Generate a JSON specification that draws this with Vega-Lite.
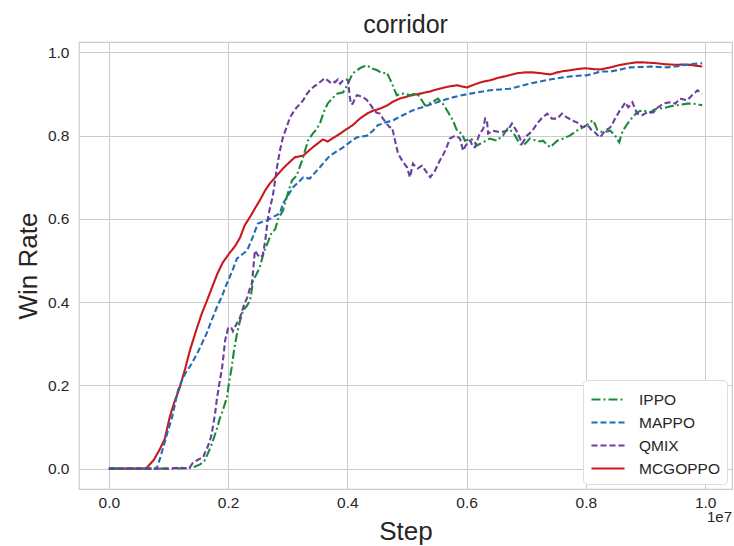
{
  "$schema": "https://vega.github.io/schema/vega-lite/v6.json",
  "width": 653,
  "height": 447,
  "autosize": {"type": "none"},
  "padding": {"left": 79, "top": 42, "right": 2, "bottom": 57},
  "background": "white",
  "title": {"text": "corridor", "fontSize": 25, "font": "Liberation Sans", "fontWeight": "normal", "color": "#262626", "offset": 4},
  "datasets": {
    "curves": [
      {"algo":"MCGOPPO","x":0,"y":0},{"algo":"MCGOPPO","x":0.03,"y":0},{"algo":"MCGOPPO","x":0.062,"y":0},{"algo":"MCGOPPO","x":0.075,"y":0.02},{"algo":"MCGOPPO","x":0.085,"y":0.045},{"algo":"MCGOPPO","x":0.094,"y":0.072},{"algo":"MCGOPPO","x":0.102,"y":0.123},{"algo":"MCGOPPO","x":0.11,"y":0.16},{"algo":"MCGOPPO","x":0.119,"y":0.195},{"algo":"MCGOPPO","x":0.128,"y":0.24},{"algo":"MCGOPPO","x":0.136,"y":0.284},{"algo":"MCGOPPO","x":0.146,"y":0.33},{"algo":"MCGOPPO","x":0.156,"y":0.373},{"algo":"MCGOPPO","x":0.165,"y":0.405},{"algo":"MCGOPPO","x":0.173,"y":0.435},{"algo":"MCGOPPO","x":0.182,"y":0.468},{"algo":"MCGOPPO","x":0.191,"y":0.495},{"algo":"MCGOPPO","x":0.203,"y":0.519},{"algo":"MCGOPPO","x":0.212,"y":0.535},{"algo":"MCGOPPO","x":0.22,"y":0.555},{"algo":"MCGOPPO","x":0.228,"y":0.585},{"algo":"MCGOPPO","x":0.237,"y":0.605},{"algo":"MCGOPPO","x":0.245,"y":0.625},{"algo":"MCGOPPO","x":0.253,"y":0.644},{"algo":"MCGOPPO","x":0.262,"y":0.668},{"algo":"MCGOPPO","x":0.27,"y":0.685},{"algo":"MCGOPPO","x":0.281,"y":0.703},{"algo":"MCGOPPO","x":0.292,"y":0.721},{"algo":"MCGOPPO","x":0.302,"y":0.735},{"algo":"MCGOPPO","x":0.312,"y":0.748},{"algo":"MCGOPPO","x":0.326,"y":0.752},{"algo":"MCGOPPO","x":0.334,"y":0.762},{"algo":"MCGOPPO","x":0.342,"y":0.772},{"algo":"MCGOPPO","x":0.35,"y":0.781},{"algo":"MCGOPPO","x":0.359,"y":0.791},{"algo":"MCGOPPO","x":0.367,"y":0.786},{"algo":"MCGOPPO","x":0.378,"y":0.796},{"algo":"MCGOPPO","x":0.388,"y":0.805},{"algo":"MCGOPPO","x":0.398,"y":0.815},{"algo":"MCGOPPO","x":0.409,"y":0.825},{"algo":"MCGOPPO","x":0.421,"y":0.841},{"algo":"MCGOPPO","x":0.433,"y":0.853},{"algo":"MCGOPPO","x":0.443,"y":0.86},{"algo":"MCGOPPO","x":0.455,"y":0.865},{"algo":"MCGOPPO","x":0.466,"y":0.872},{"algo":"MCGOPPO","x":0.477,"y":0.882},{"algo":"MCGOPPO","x":0.488,"y":0.889},{"algo":"MCGOPPO","x":0.505,"y":0.896},{"algo":"MCGOPPO","x":0.522,"y":0.901},{"algo":"MCGOPPO","x":0.538,"y":0.906},{"algo":"MCGOPPO","x":0.555,"y":0.913},{"algo":"MCGOPPO","x":0.57,"y":0.918},{"algo":"MCGOPPO","x":0.584,"y":0.921},{"algo":"MCGOPPO","x":0.592,"y":0.918},{"algo":"MCGOPPO","x":0.601,"y":0.916},{"algo":"MCGOPPO","x":0.617,"y":0.925},{"algo":"MCGOPPO","x":0.628,"y":0.93},{"algo":"MCGOPPO","x":0.639,"y":0.933},{"algo":"MCGOPPO","x":0.651,"y":0.938},{"algo":"MCGOPPO","x":0.668,"y":0.944},{"algo":"MCGOPPO","x":0.685,"y":0.95},{"algo":"MCGOPPO","x":0.698,"y":0.952},{"algo":"MCGOPPO","x":0.711,"y":0.952},{"algo":"MCGOPPO","x":0.725,"y":0.95},{"algo":"MCGOPPO","x":0.74,"y":0.947},{"algo":"MCGOPPO","x":0.752,"y":0.952},{"algo":"MCGOPPO","x":0.762,"y":0.955},{"algo":"MCGOPPO","x":0.773,"y":0.957},{"algo":"MCGOPPO","x":0.786,"y":0.96},{"algo":"MCGOPPO","x":0.799,"y":0.962},{"algo":"MCGOPPO","x":0.812,"y":0.96},{"algo":"MCGOPPO","x":0.824,"y":0.959},{"algo":"MCGOPPO","x":0.841,"y":0.964},{"algo":"MCGOPPO","x":0.858,"y":0.97},{"algo":"MCGOPPO","x":0.874,"y":0.974},{"algo":"MCGOPPO","x":0.885,"y":0.976},{"algo":"MCGOPPO","x":0.896,"y":0.976},{"algo":"MCGOPPO","x":0.908,"y":0.975},{"algo":"MCGOPPO","x":0.919,"y":0.974},{"algo":"MCGOPPO","x":0.93,"y":0.972},{"algo":"MCGOPPO","x":0.941,"y":0.971},{"algo":"MCGOPPO","x":0.952,"y":0.97},{"algo":"MCGOPPO","x":0.963,"y":0.971},{"algo":"MCGOPPO","x":0.975,"y":0.97},{"algo":"MCGOPPO","x":0.985,"y":0.968},{"algo":"MCGOPPO","x":0.995,"y":0.966},

      {"algo":"MAPPO","x":0,"y":0},{"algo":"MAPPO","x":0.04,"y":0},{"algo":"MAPPO","x":0.08,"y":0},{"algo":"MAPPO","x":0.086,"y":0.025},{"algo":"MAPPO","x":0.091,"y":0.05},{"algo":"MAPPO","x":0.098,"y":0.085},{"algo":"MAPPO","x":0.106,"y":0.123},{"algo":"MAPPO","x":0.111,"y":0.155},{"algo":"MAPPO","x":0.116,"y":0.188},{"algo":"MAPPO","x":0.122,"y":0.21},{"algo":"MAPPO","x":0.128,"y":0.228},{"algo":"MAPPO","x":0.138,"y":0.25},{"algo":"MAPPO","x":0.148,"y":0.276},{"algo":"MAPPO","x":0.156,"y":0.3},{"algo":"MAPPO","x":0.164,"y":0.325},{"algo":"MAPPO","x":0.172,"y":0.355},{"algo":"MAPPO","x":0.181,"y":0.387},{"algo":"MAPPO","x":0.19,"y":0.415},{"algo":"MAPPO","x":0.198,"y":0.445},{"algo":"MAPPO","x":0.207,"y":0.475},{"algo":"MAPPO","x":0.215,"y":0.505},{"algo":"MAPPO","x":0.224,"y":0.515},{"algo":"MAPPO","x":0.232,"y":0.524},{"algo":"MAPPO","x":0.241,"y":0.555},{"algo":"MAPPO","x":0.25,"y":0.589},{"algo":"MAPPO","x":0.258,"y":0.593},{"algo":"MAPPO","x":0.265,"y":0.596},{"algo":"MAPPO","x":0.276,"y":0.605},{"algo":"MAPPO","x":0.287,"y":0.613},{"algo":"MAPPO","x":0.292,"y":0.637},{"algo":"MAPPO","x":0.3,"y":0.655},{"algo":"MAPPO","x":0.309,"y":0.676},{"algo":"MAPPO","x":0.318,"y":0.688},{"algo":"MAPPO","x":0.326,"y":0.7},{"algo":"MAPPO","x":0.337,"y":0.697},{"algo":"MAPPO","x":0.345,"y":0.71},{"algo":"MAPPO","x":0.354,"y":0.724},{"algo":"MAPPO","x":0.362,"y":0.738},{"algo":"MAPPO","x":0.371,"y":0.752},{"algo":"MAPPO","x":0.382,"y":0.762},{"algo":"MAPPO","x":0.393,"y":0.772},{"algo":"MAPPO","x":0.405,"y":0.785},{"algo":"MAPPO","x":0.416,"y":0.796},{"algo":"MAPPO","x":0.425,"y":0.798},{"algo":"MAPPO","x":0.433,"y":0.8},{"algo":"MAPPO","x":0.443,"y":0.812},{"algo":"MAPPO","x":0.451,"y":0.825},{"algo":"MAPPO","x":0.465,"y":0.832},{"algo":"MAPPO","x":0.477,"y":0.837},{"algo":"MAPPO","x":0.493,"y":0.849},{"algo":"MAPPO","x":0.51,"y":0.861},{"algo":"MAPPO","x":0.527,"y":0.869},{"algo":"MAPPO","x":0.544,"y":0.877},{"algo":"MAPPO","x":0.56,"y":0.885},{"algo":"MAPPO","x":0.577,"y":0.892},{"algo":"MAPPO","x":0.592,"y":0.897},{"algo":"MAPPO","x":0.606,"y":0.901},{"algo":"MAPPO","x":0.622,"y":0.905},{"algo":"MAPPO","x":0.639,"y":0.909},{"algo":"MAPPO","x":0.656,"y":0.911},{"algo":"MAPPO","x":0.673,"y":0.913},{"algo":"MAPPO","x":0.69,"y":0.919},{"algo":"MAPPO","x":0.706,"y":0.925},{"algo":"MAPPO","x":0.723,"y":0.93},{"algo":"MAPPO","x":0.74,"y":0.935},{"algo":"MAPPO","x":0.757,"y":0.939},{"algo":"MAPPO","x":0.773,"y":0.942},{"algo":"MAPPO","x":0.788,"y":0.944},{"algo":"MAPPO","x":0.802,"y":0.945},{"algo":"MAPPO","x":0.815,"y":0.95},{"algo":"MAPPO","x":0.824,"y":0.954},{"algo":"MAPPO","x":0.841,"y":0.954},{"algo":"MAPPO","x":0.858,"y":0.959},{"algo":"MAPPO","x":0.874,"y":0.964},{"algo":"MAPPO","x":0.891,"y":0.965},{"algo":"MAPPO","x":0.908,"y":0.966},{"algo":"MAPPO","x":0.922,"y":0.965},{"algo":"MAPPO","x":0.936,"y":0.964},{"algo":"MAPPO","x":0.95,"y":0.966},{"algo":"MAPPO","x":0.963,"y":0.969},{"algo":"MAPPO","x":0.978,"y":0.972},{"algo":"MAPPO","x":0.995,"y":0.974},

      {"algo":"IPPO","x":0,"y":0},{"algo":"IPPO","x":0.05,"y":0},{"algo":"IPPO","x":0.1,"y":0},{"algo":"IPPO","x":0.13,"y":0.001},{"algo":"IPPO","x":0.136,"y":0.002},{"algo":"IPPO","x":0.145,"y":0.005},{"algo":"IPPO","x":0.153,"y":0.01},{"algo":"IPPO","x":0.16,"y":0.018},{"algo":"IPPO","x":0.166,"y":0.036},{"algo":"IPPO","x":0.173,"y":0.06},{"algo":"IPPO","x":0.181,"y":0.095},{"algo":"IPPO","x":0.186,"y":0.12},{"algo":"IPPO","x":0.191,"y":0.139},{"algo":"IPPO","x":0.198,"y":0.171},{"algo":"IPPO","x":0.202,"y":0.21},{"algo":"IPPO","x":0.206,"y":0.243},{"algo":"IPPO","x":0.21,"y":0.285},{"algo":"IPPO","x":0.215,"y":0.325},{"algo":"IPPO","x":0.22,"y":0.355},{"algo":"IPPO","x":0.225,"y":0.38},{"algo":"IPPO","x":0.231,"y":0.39},{"algo":"IPPO","x":0.237,"y":0.404},{"algo":"IPPO","x":0.242,"y":0.452},{"algo":"IPPO","x":0.248,"y":0.468},{"algo":"IPPO","x":0.253,"y":0.483},{"algo":"IPPO","x":0.26,"y":0.52},{"algo":"IPPO","x":0.267,"y":0.545},{"algo":"IPPO","x":0.273,"y":0.567},{"algo":"IPPO","x":0.279,"y":0.575},{"algo":"IPPO","x":0.284,"y":0.6},{"algo":"IPPO","x":0.292,"y":0.62},{"algo":"IPPO","x":0.3,"y":0.66},{"algo":"IPPO","x":0.307,"y":0.692},{"algo":"IPPO","x":0.315,"y":0.704},{"algo":"IPPO","x":0.324,"y":0.74},{"algo":"IPPO","x":0.334,"y":0.788},{"algo":"IPPO","x":0.342,"y":0.805},{"algo":"IPPO","x":0.348,"y":0.815},{"algo":"IPPO","x":0.354,"y":0.829},{"algo":"IPPO","x":0.36,"y":0.855},{"algo":"IPPO","x":0.367,"y":0.877},{"algo":"IPPO","x":0.375,"y":0.89},{"algo":"IPPO","x":0.383,"y":0.901},{"algo":"IPPO","x":0.393,"y":0.904},{"algo":"IPPO","x":0.401,"y":0.925},{"algo":"IPPO","x":0.409,"y":0.95},{"algo":"IPPO","x":0.415,"y":0.955},{"algo":"IPPO","x":0.421,"y":0.962},{"algo":"IPPO","x":0.427,"y":0.966},{"algo":"IPPO","x":0.433,"y":0.969},{"algo":"IPPO","x":0.44,"y":0.962},{"algo":"IPPO","x":0.45,"y":0.957},{"algo":"IPPO","x":0.455,"y":0.953},{"algo":"IPPO","x":0.46,"y":0.95},{"algo":"IPPO","x":0.466,"y":0.952},{"algo":"IPPO","x":0.47,"y":0.94},{"algo":"IPPO","x":0.475,"y":0.925},{"algo":"IPPO","x":0.479,"y":0.91},{"algo":"IPPO","x":0.483,"y":0.897},{"algo":"IPPO","x":0.488,"y":0.9},{"algo":"IPPO","x":0.493,"y":0.901},{"algo":"IPPO","x":0.499,"y":0.9},{"algo":"IPPO","x":0.505,"y":0.897},{"algo":"IPPO","x":0.511,"y":0.9},{"algo":"IPPO","x":0.517,"y":0.901},{"algo":"IPPO","x":0.521,"y":0.893},{"algo":"IPPO","x":0.525,"y":0.885},{"algo":"IPPO","x":0.53,"y":0.873},{"algo":"IPPO","x":0.536,"y":0.877},{"algo":"IPPO","x":0.542,"y":0.88},{"algo":"IPPO","x":0.547,"y":0.885},{"algo":"IPPO","x":0.552,"y":0.889},{"algo":"IPPO","x":0.556,"y":0.882},{"algo":"IPPO","x":0.56,"y":0.877},{"algo":"IPPO","x":0.565,"y":0.866},{"algo":"IPPO","x":0.569,"y":0.856},{"algo":"IPPO","x":0.573,"y":0.846},{"algo":"IPPO","x":0.577,"y":0.837},{"algo":"IPPO","x":0.581,"y":0.822},{"algo":"IPPO","x":0.584,"y":0.812},{"algo":"IPPO","x":0.588,"y":0.808},{"algo":"IPPO","x":0.592,"y":0.805},{"algo":"IPPO","x":0.597,"y":0.788},{"algo":"IPPO","x":0.602,"y":0.79},{"algo":"IPPO","x":0.606,"y":0.793},{"algo":"IPPO","x":0.612,"y":0.788},{"algo":"IPPO","x":0.617,"y":0.776},{"algo":"IPPO","x":0.622,"y":0.78},{"algo":"IPPO","x":0.628,"y":0.784},{"algo":"IPPO","x":0.634,"y":0.79},{"algo":"IPPO","x":0.639,"y":0.793},{"algo":"IPPO","x":0.645,"y":0.79},{"algo":"IPPO","x":0.651,"y":0.788},{"algo":"IPPO","x":0.656,"y":0.795},{"algo":"IPPO","x":0.661,"y":0.8},{"algo":"IPPO","x":0.665,"y":0.81},{"algo":"IPPO","x":0.669,"y":0.817},{"algo":"IPPO","x":0.674,"y":0.812},{"algo":"IPPO","x":0.678,"y":0.808},{"algo":"IPPO","x":0.682,"y":0.798},{"algo":"IPPO","x":0.686,"y":0.788},{"algo":"IPPO","x":0.69,"y":0.78},{"algo":"IPPO","x":0.695,"y":0.776},{"algo":"IPPO","x":0.701,"y":0.785},{"algo":"IPPO","x":0.706,"y":0.793},{"algo":"IPPO","x":0.712,"y":0.79},{"algo":"IPPO","x":0.718,"y":0.788},{"algo":"IPPO","x":0.723,"y":0.786},{"algo":"IPPO","x":0.728,"y":0.788},{"algo":"IPPO","x":0.734,"y":0.78},{"algo":"IPPO","x":0.74,"y":0.772},{"algo":"IPPO","x":0.746,"y":0.78},{"algo":"IPPO","x":0.752,"y":0.788},{"algo":"IPPO","x":0.757,"y":0.79},{"algo":"IPPO","x":0.762,"y":0.793},{"algo":"IPPO","x":0.768,"y":0.797},{"algo":"IPPO","x":0.773,"y":0.8},{"algo":"IPPO","x":0.779,"y":0.806},{"algo":"IPPO","x":0.785,"y":0.812},{"algo":"IPPO","x":0.79,"y":0.816},{"algo":"IPPO","x":0.795,"y":0.82},{"algo":"IPPO","x":0.801,"y":0.825},{"algo":"IPPO","x":0.807,"y":0.832},{"algo":"IPPO","x":0.812,"y":0.837},{"algo":"IPPO","x":0.816,"y":0.825},{"algo":"IPPO","x":0.819,"y":0.814},{"algo":"IPPO","x":0.824,"y":0.81},{"algo":"IPPO","x":0.829,"y":0.808},{"algo":"IPPO","x":0.835,"y":0.81},{"algo":"IPPO","x":0.841,"y":0.812},{"algo":"IPPO","x":0.845,"y":0.806},{"algo":"IPPO","x":0.849,"y":0.8},{"algo":"IPPO","x":0.853,"y":0.79},{"algo":"IPPO","x":0.856,"y":0.784},{"algo":"IPPO","x":0.859,"y":0.8},{"algo":"IPPO","x":0.862,"y":0.812},{"algo":"IPPO","x":0.868,"y":0.825},{"algo":"IPPO","x":0.874,"y":0.837},{"algo":"IPPO","x":0.88,"y":0.847},{"algo":"IPPO","x":0.886,"y":0.856},{"algo":"IPPO","x":0.891,"y":0.859},{"algo":"IPPO","x":0.896,"y":0.861},{"algo":"IPPO","x":0.902,"y":0.858},{"algo":"IPPO","x":0.908,"y":0.856},{"algo":"IPPO","x":0.913,"y":0.861},{"algo":"IPPO","x":0.919,"y":0.865},{"algo":"IPPO","x":0.928,"y":0.866},{"algo":"IPPO","x":0.936,"y":0.868},{"algo":"IPPO","x":0.944,"y":0.871},{"algo":"IPPO","x":0.953,"y":0.873},{"algo":"IPPO","x":0.961,"y":0.875},{"algo":"IPPO","x":0.97,"y":0.877},{"algo":"IPPO","x":0.98,"y":0.877},{"algo":"IPPO","x":0.988,"y":0.875},{"algo":"IPPO","x":0.995,"y":0.873},

      {"algo":"QMIX","x":0,"y":0},{"algo":"QMIX","x":0.05,"y":0},{"algo":"QMIX","x":0.1,"y":0},{"algo":"QMIX","x":0.119,"y":0.002},{"algo":"QMIX","x":0.13,"y":0.001},{"algo":"QMIX","x":0.136,"y":0.003},{"algo":"QMIX","x":0.141,"y":0.014},{"algo":"QMIX","x":0.148,"y":0.02},{"algo":"QMIX","x":0.153,"y":0.024},{"algo":"QMIX","x":0.158,"y":0.026},{"algo":"QMIX","x":0.161,"y":0.038},{"algo":"QMIX","x":0.165,"y":0.05},{"algo":"QMIX","x":0.169,"y":0.065},{"algo":"QMIX","x":0.172,"y":0.08},{"algo":"QMIX","x":0.175,"y":0.105},{"algo":"QMIX","x":0.178,"y":0.13},{"algo":"QMIX","x":0.181,"y":0.165},{"algo":"QMIX","x":0.186,"y":0.21},{"algo":"QMIX","x":0.19,"y":0.243},{"algo":"QMIX","x":0.193,"y":0.28},{"algo":"QMIX","x":0.195,"y":0.308},{"algo":"QMIX","x":0.2,"y":0.337},{"algo":"QMIX","x":0.205,"y":0.34},{"algo":"QMIX","x":0.208,"y":0.33},{"algo":"QMIX","x":0.211,"y":0.339},{"algo":"QMIX","x":0.215,"y":0.35},{"algo":"QMIX","x":0.22,"y":0.363},{"algo":"QMIX","x":0.226,"y":0.39},{"algo":"QMIX","x":0.232,"y":0.411},{"algo":"QMIX","x":0.236,"y":0.43},{"algo":"QMIX","x":0.24,"y":0.445},{"algo":"QMIX","x":0.245,"y":0.524},{"algo":"QMIX","x":0.249,"y":0.515},{"algo":"QMIX","x":0.253,"y":0.507},{"algo":"QMIX","x":0.258,"y":0.512},{"algo":"QMIX","x":0.262,"y":0.545},{"algo":"QMIX","x":0.267,"y":0.603},{"algo":"QMIX","x":0.27,"y":0.625},{"algo":"QMIX","x":0.275,"y":0.655},{"algo":"QMIX","x":0.282,"y":0.724},{"algo":"QMIX","x":0.287,"y":0.765},{"algo":"QMIX","x":0.292,"y":0.796},{"algo":"QMIX","x":0.298,"y":0.82},{"algo":"QMIX","x":0.304,"y":0.844},{"algo":"QMIX","x":0.31,"y":0.858},{"algo":"QMIX","x":0.315,"y":0.868},{"algo":"QMIX","x":0.32,"y":0.875},{"algo":"QMIX","x":0.326,"y":0.885},{"algo":"QMIX","x":0.331,"y":0.898},{"algo":"QMIX","x":0.337,"y":0.909},{"algo":"QMIX","x":0.344,"y":0.918},{"algo":"QMIX","x":0.351,"y":0.925},{"algo":"QMIX","x":0.357,"y":0.932},{"algo":"QMIX","x":0.362,"y":0.938},{"algo":"QMIX","x":0.367,"y":0.933},{"algo":"QMIX","x":0.371,"y":0.928},{"algo":"QMIX","x":0.375,"y":0.932},{"algo":"QMIX","x":0.379,"y":0.928},{"algo":"QMIX","x":0.384,"y":0.935},{"algo":"QMIX","x":0.388,"y":0.925},{"algo":"QMIX","x":0.393,"y":0.933},{"algo":"QMIX","x":0.398,"y":0.935},{"algo":"QMIX","x":0.401,"y":0.933},{"algo":"QMIX","x":0.404,"y":0.895},{"algo":"QMIX","x":0.406,"y":0.875},{"algo":"QMIX","x":0.409,"y":0.877},{"algo":"QMIX","x":0.413,"y":0.89},{"algo":"QMIX","x":0.416,"y":0.897},{"algo":"QMIX","x":0.421,"y":0.895},{"algo":"QMIX","x":0.426,"y":0.892},{"algo":"QMIX","x":0.431,"y":0.888},{"algo":"QMIX","x":0.436,"y":0.88},{"algo":"QMIX","x":0.443,"y":0.865},{"algo":"QMIX","x":0.449,"y":0.855},{"algo":"QMIX","x":0.455,"y":0.853},{"algo":"QMIX","x":0.46,"y":0.84},{"algo":"QMIX","x":0.466,"y":0.829},{"algo":"QMIX","x":0.471,"y":0.82},{"algo":"QMIX","x":0.475,"y":0.82},{"algo":"QMIX","x":0.48,"y":0.788},{"algo":"QMIX","x":0.485,"y":0.757},{"algo":"QMIX","x":0.492,"y":0.74},{"algo":"QMIX","x":0.497,"y":0.73},{"algo":"QMIX","x":0.5,"y":0.724},{"algo":"QMIX","x":0.505,"y":0.7},{"algo":"QMIX","x":0.51,"y":0.733},{"algo":"QMIX","x":0.514,"y":0.726},{"algo":"QMIX","x":0.518,"y":0.721},{"algo":"QMIX","x":0.522,"y":0.725},{"algo":"QMIX","x":0.525,"y":0.728},{"algo":"QMIX","x":0.529,"y":0.72},{"algo":"QMIX","x":0.533,"y":0.712},{"algo":"QMIX","x":0.539,"y":0.7},{"algo":"QMIX","x":0.543,"y":0.708},{"algo":"QMIX","x":0.547,"y":0.716},{"algo":"QMIX","x":0.551,"y":0.728},{"algo":"QMIX","x":0.555,"y":0.74},{"algo":"QMIX","x":0.56,"y":0.752},{"algo":"QMIX","x":0.564,"y":0.764},{"algo":"QMIX","x":0.568,"y":0.778},{"algo":"QMIX","x":0.572,"y":0.793},{"algo":"QMIX","x":0.577,"y":0.797},{"algo":"QMIX","x":0.581,"y":0.8},{"algo":"QMIX","x":0.585,"y":0.797},{"algo":"QMIX","x":0.589,"y":0.793},{"algo":"QMIX","x":0.594,"y":0.764},{"algo":"QMIX","x":0.598,"y":0.775},{"algo":"QMIX","x":0.602,"y":0.784},{"algo":"QMIX","x":0.606,"y":0.788},{"algo":"QMIX","x":0.611,"y":0.772},{"algo":"QMIX","x":0.614,"y":0.772},{"algo":"QMIX","x":0.619,"y":0.793},{"algo":"QMIX","x":0.622,"y":0.805},{"algo":"QMIX","x":0.628,"y":0.817},{"algo":"QMIX","x":0.631,"y":0.841},{"algo":"QMIX","x":0.634,"y":0.838},{"algo":"QMIX","x":0.636,"y":0.805},{"algo":"QMIX","x":0.644,"y":0.812},{"algo":"QMIX","x":0.65,"y":0.81},{"algo":"QMIX","x":0.656,"y":0.808},{"algo":"QMIX","x":0.662,"y":0.81},{"algo":"QMIX","x":0.668,"y":0.812},{"algo":"QMIX","x":0.672,"y":0.82},{"algo":"QMIX","x":0.676,"y":0.829},{"algo":"QMIX","x":0.68,"y":0.82},{"algo":"QMIX","x":0.685,"y":0.808},{"algo":"QMIX","x":0.689,"y":0.795},{"algo":"QMIX","x":0.693,"y":0.781},{"algo":"QMIX","x":0.697,"y":0.79},{"algo":"QMIX","x":0.701,"y":0.8},{"algo":"QMIX","x":0.706,"y":0.806},{"algo":"QMIX","x":0.71,"y":0.812},{"algo":"QMIX","x":0.714,"y":0.82},{"algo":"QMIX","x":0.718,"y":0.829},{"algo":"QMIX","x":0.723,"y":0.837},{"algo":"QMIX","x":0.727,"y":0.844},{"algo":"QMIX","x":0.731,"y":0.848},{"algo":"QMIX","x":0.735,"y":0.853},{"algo":"QMIX","x":0.739,"y":0.847},{"algo":"QMIX","x":0.743,"y":0.841},{"algo":"QMIX","x":0.752,"y":0.841},{"algo":"QMIX","x":0.756,"y":0.847},{"algo":"QMIX","x":0.76,"y":0.853},{"algo":"QMIX","x":0.764,"y":0.848},{"algo":"QMIX","x":0.768,"y":0.844},{"algo":"QMIX","x":0.773,"y":0.84},{"algo":"QMIX","x":0.777,"y":0.837},{"algo":"QMIX","x":0.781,"y":0.834},{"algo":"QMIX","x":0.785,"y":0.832},{"algo":"QMIX","x":0.79,"y":0.826},{"algo":"QMIX","x":0.794,"y":0.82},{"algo":"QMIX","x":0.798,"y":0.822},{"algo":"QMIX","x":0.802,"y":0.825},{"algo":"QMIX","x":0.806,"y":0.82},{"algo":"QMIX","x":0.81,"y":0.812},{"algo":"QMIX","x":0.815,"y":0.808},{"algo":"QMIX","x":0.819,"y":0.802},{"algo":"QMIX","x":0.824,"y":0.796},{"algo":"QMIX","x":0.828,"y":0.804},{"algo":"QMIX","x":0.832,"y":0.812},{"algo":"QMIX","x":0.837,"y":0.816},{"algo":"QMIX","x":0.841,"y":0.82},{"algo":"QMIX","x":0.845,"y":0.83},{"algo":"QMIX","x":0.849,"y":0.841},{"algo":"QMIX","x":0.853,"y":0.851},{"algo":"QMIX","x":0.857,"y":0.861},{"algo":"QMIX","x":0.862,"y":0.87},{"algo":"QMIX","x":0.866,"y":0.88},{"algo":"QMIX","x":0.871,"y":0.868},{"algo":"QMIX","x":0.875,"y":0.874},{"algo":"QMIX","x":0.878,"y":0.88},{"algo":"QMIX","x":0.882,"y":0.866},{"algo":"QMIX","x":0.886,"y":0.853},{"algo":"QMIX","x":0.89,"y":0.851},{"algo":"QMIX","x":0.894,"y":0.849},{"algo":"QMIX","x":0.899,"y":0.853},{"algo":"QMIX","x":0.903,"y":0.856},{"algo":"QMIX","x":0.908,"y":0.856},{"algo":"QMIX","x":0.913,"y":0.856},{"algo":"QMIX","x":0.917,"y":0.862},{"algo":"QMIX","x":0.921,"y":0.868},{"algo":"QMIX","x":0.926,"y":0.873},{"algo":"QMIX","x":0.93,"y":0.877},{"algo":"QMIX","x":0.936,"y":0.879},{"algo":"QMIX","x":0.941,"y":0.88},{"algo":"QMIX","x":0.946,"y":0.879},{"algo":"QMIX","x":0.95,"y":0.877},{"algo":"QMIX","x":0.954,"y":0.883},{"algo":"QMIX","x":0.958,"y":0.889},{"algo":"QMIX","x":0.964,"y":0.887},{"algo":"QMIX","x":0.97,"y":0.885},{"algo":"QMIX","x":0.974,"y":0.891},{"algo":"QMIX","x":0.978,"y":0.897},{"algo":"QMIX","x":0.983,"y":0.903},{"algo":"QMIX","x":0.987,"y":0.909},{"algo":"QMIX","x":0.991,"y":0.905},{"algo":"QMIX","x":0.995,"y":0.901}
    ],
    "notes": [{"label": "1e7"}]
  },
  "layer": [
    {
      "data": {"name": "curves"},
      "mark": {"type": "line", "strokeWidth": 2.1, "clip": true},
      "encoding": {
        "x": {
          "field": "x", "type": "quantitative",
          "scale": {"domain": [-0.05, 1.045], "nice": false, "zero": false},
          "axis": {"title": "Step", "values": [0, 0.2, 0.4, 0.6, 0.8, 1.0], "format": ".1f"}
        },
        "y": {
          "field": "y", "type": "quantitative",
          "scale": {"domain": [-0.049, 1.025], "nice": false, "zero": false},
          "axis": {"title": "Win Rate", "values": [0, 0.2, 0.4, 0.6, 0.8, 1.0], "format": ".1f"}
        },
        "color": {
          "field": "algo", "type": "nominal", "title": null,
          "scale": {"domain": ["IPPO", "MAPPO", "QMIX", "MCGOPPO"], "range": ["#1b8a3c", "#1f6db3", "#6a3fa0", "#c9191e"]}
        },
        "strokeDash": {
          "field": "algo", "type": "nominal", "title": null,
          "scale": {"domain": ["IPPO", "MAPPO", "QMIX", "MCGOPPO"], "range": [[9, 3, 2, 3], [6, 3], [6, 3], [1, 0]]}
        },
        "order": {"field": "x", "type": "quantitative"}
      }
    },
    {
      "data": {"name": "notes"},
      "mark": {"type": "text", "align": "right", "baseline": "top", "dy": 21, "fontSize": 15, "font": "Liberation Sans", "color": "#262626", "clip": false},
      "encoding": {
        "x": {"datum": 1.045},
        "y": {"datum": -0.049},
        "text": {"field": "label"}
      }
    }
  ],
  "config": {
    "view": {"stroke": "#cccccc", "strokeWidth": 1.2},
    "axis": {
      "grid": true, "gridColor": "#cccccc", "gridWidth": 1,
      "domain": false, "ticks": false,
      "labelFont": "Liberation Sans", "labelFontSize": 15.5, "labelColor": "#262626",
      "titleFont": "Liberation Sans", "titleFontSize": 26, "titleFontWeight": "normal", "titleColor": "#262626"
    },
    "axisX": {"labelPadding": 6, "titlePadding": 8},
    "axisY": {"labelPadding": 10, "titlePadding": 6},
    "legend": {
      "orient": "bottom-right", "offset": 5, "padding": 7,
      "fillColor": "white", "strokeColor": "#dddddd", "cornerRadius": 4,
      "symbolType": "M-1,0H2", "symbolSize": 484, "symbolStrokeWidth": 2.1,
      "labelFont": "Liberation Sans", "labelFontSize": 15.5, "labelColor": "#262626", "labelOffset": 24,
      "rowPadding": 2
    }
  }
}
